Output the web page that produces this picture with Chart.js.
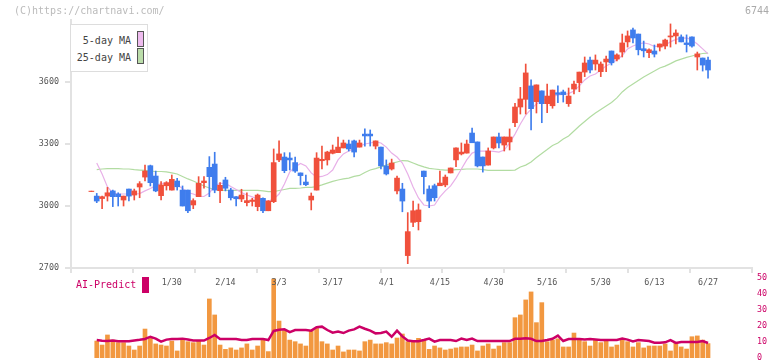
<!DOCTYPE html>
<html>
<head>
<meta charset="utf-8">
<script src="https://cdn.jsdelivr.net/npm/chart.js@4.4.1/dist/chart.umd.min.js"></script>
<style>
  html, body { margin: 0; padding: 0; background: #fff; overflow: hidden; }
  #wrap { position: relative; width: 772px; height: 361px; overflow: hidden;
          font-family: "DejaVu Sans Mono", monospace; }
  canvas { position: absolute; left: 0; top: 0; }
  .credit { position: absolute; left: 14px; top: 5px; font-size: 10px; color: #bbb; }
  .code { position: absolute; left: 745px; top: 5px; font-size: 10px; color: #aaa; }
  .legend { position: absolute; left: 70px; top: 24px; width: 76px; height: 46px;
            border: 1px solid #ddd; background: #fff; font-size: 10px; color: #444; }
  .legend .row { position: absolute; right: 16px; line-height: 12px; }
  .legend .sw { position: absolute; left: 66px; width: 5px; height: 14px; border: 1px solid #555; }
  .ai { position: absolute; left: 76px; top: 279px; font-size: 10px; color: #cc0066; line-height: 12px; }
  .aibox { position: absolute; left: 142px; top: 277px; width: 7px; height: 16px; background: #cc0066; }
</style>
</head>
<body>
<div id="wrap">
  <canvas id="sub" width="772" height="370"></canvas>
  <canvas id="main" width="772" height="361"></canvas>
  <div class="credit">(C)https://chartnavi.com/</div>
  <div class="code">6744</div>
  <div class="legend">
    <div class="row" style="top:10px">5-day MA</div>
    <div class="sw" style="top:6px;background:#eebbee"></div>
    <div class="row" style="top:27px">25-day MA</div>
    <div class="sw" style="top:23px;background:#bbddaa"></div>
  </div>
  <div class="ai">AI-Predict</div>
  <div class="aibox"></div>
</div>
<script>
// trading days, 2025
const dates = [
  '1/8','1/9','1/10','1/14','1/15','1/16','1/17','1/20','1/21','1/22',
  '1/23','1/24','1/27','1/28','1/29','1/30','1/31','2/3','2/4','2/5',
  '2/6','2/7','2/10','2/12','2/13','2/14','2/17','2/18','2/19','2/20',
  '2/21','2/25','2/26','2/27','2/28','3/3','3/4','3/5','3/6','3/7',
  '3/10','3/11','3/12','3/13','3/14','3/17','3/18','3/19','3/21','3/24',
  '3/25','3/26','3/27','3/28','3/31','4/1','4/2','4/3','4/4','4/7',
  '4/8','4/9','4/10','4/11','4/14','4/15','4/16','4/17','4/18','4/21',
  '4/22','4/23','4/24','4/25','4/28','4/30','5/1','5/2','5/7','5/8',
  '5/9','5/12','5/13','5/14','5/15','5/16','5/19','5/20','5/21','5/22',
  '5/23','5/26','5/27','5/28','5/29','5/30','6/2','6/3','6/4','6/5',
  '6/6','6/9','6/10','6/11','6/12','6/13','6/16','6/17','6/18','6/19',
  '6/20','6/23','6/24','6/25','6/26','6/27'
];
const tickDates = ['1/30','2/14','3/3','3/17','4/1','4/15','4/30','5/16','5/30','6/13','6/27'];
const priceTicks = [2700, 3000, 3300, 3600];

const opens = [
  3070,3048,3036,3048,3073,3058,3029,3082,3053,3092,
  3140,3195,3145,3050,3098,3077,3121,3077,3077,3005,
  3045,3113,3187,3203,3074,3126,3077,3045,3034,3016,
  3022,2997,3037,2977,3021,3223,3237,3232,3210,3160,
  3116,3029,3077,3219,3223,3255,3258,3281,3300,3315,
  3285,3348,3348,3290,3285,3194,3179,3073,3082,2760,
  2921,2924,3169,3082,3098,3098,3102,3160,3223,3252,
  3256,3353,3310,3237,3198,3281,3334,3295,3310,3403,
  3479,3516,3581,3505,3557,3495,3485,3548,3552,3495,
  3566,3597,3648,3706,3687,3650,3697,3750,3711,3745,
  3794,3852,3832,3761,3742,3750,3769,3774,3818,3823,
  3818,3789,3818,3721,3716,3706
];
const highs = [
  3072,3061,3048,3090,3077,3064,3048,3082,3082,3118,
  3198,3198,3169,3118,3118,3150,3134,3097,3077,3035,
  3142,3142,3239,3260,3113,3139,3086,3045,3081,3064,
  3037,3058,3040,3026,3276,3315,3258,3258,3237,3160,
  3150,3063,3258,3290,3265,3295,3334,3319,3319,3319,
  3319,3373,3368,3315,3285,3223,3227,3145,3110,2968,
  3024,3010,3169,3098,3106,3169,3150,3184,3281,3305,
  3319,3377,3310,3237,3281,3334,3353,3334,3373,3497,
  3574,3687,3610,3586,3557,3590,3561,3581,3561,3571,
  3605,3648,3721,3721,3731,3697,3726,3750,3736,3832,
  3847,3861,3832,3798,3760,3779,3784,3808,3881,3852,
  3828,3828,3818,3745,3716,3721
];
const lows = [
  3070,3016,2987,3024,2997,3000,3000,3024,3029,3040,
  3121,3097,3069,3029,3077,3077,3077,3000,2968,2987,
  3045,3086,3045,3064,3016,3073,3029,3000,3021,3000,
  3000,2977,2968,2977,3016,3214,3161,3174,3163,3102,
  3098,2981,3077,3179,3198,3252,3258,3281,3266,3237,
  3285,3290,3290,3276,3179,3150,3174,3058,2972,2721,
  2900,2884,3058,2992,3024,3098,3093,3160,3190,3247,
  3256,3306,3189,3164,3198,3276,3281,3266,3271,3384,
  3445,3445,3368,3450,3403,3452,3473,3500,3503,3482,
  3542,3553,3626,3644,3658,3626,3650,3682,3702,3721,
  3769,3789,3731,3721,3718,3721,3750,3760,3769,3784,
  3794,3745,3769,3658,3653,3619
];
const closes = [
  3072,3024,3045,3064,3045,3045,3048,3048,3073,3108,
  3169,3113,3073,3102,3113,3129,3093,3000,2977,3026,
  3110,3121,3142,3077,3100,3086,3040,3035,3053,3026,
  3029,3053,2977,3024,3210,3252,3171,3223,3169,3147,
  3103,3048,3232,3226,3261,3271,3285,3305,3276,3261,
  3305,3339,3339,3315,3194,3155,3208,3135,3024,2876,
  2977,2981,3142,3024,3040,3111,3140,3184,3281,3261,
  3300,3306,3194,3194,3266,3334,3305,3334,3334,3479,
  3518,3644,3471,3586,3495,3532,3561,3540,3539,3532,
  3590,3648,3692,3658,3706,3687,3711,3693,3731,3789,
  3823,3813,3756,3751,3756,3735,3784,3803,3823,3837,
  3794,3781,3774,3736,3682,3658
];
const ma5 = [
  null,3208,3155,3092,3063,3058,3058,3058,3058,3060,
  3073,3085,3099,3109,3111,3109,3102,3085,3065,3058,
  3048,3046,3063,3097,3109,3109,3094,3080,3065,3053,
  3044,3034,3027,3024,3034,3058,3106,3165,3189,3206,
  3194,3160,3140,3143,3152,3174,3223,3252,3266,3276,
  3290,3300,3305,3310,3305,3285,3256,3237,3208,3155,
  3092,3039,3005,3000,3005,3044,3073,3097,3135,3179,
  3223,3256,3266,3266,3266,3264,3261,3271,3305,3348,
  3397,3440,3469,3494,3508,3520,3530,3537,3540,3544,
  3556,3581,3610,3629,3639,3658,3677,3692,3707,3728,
  3760,3774,3784,3789,3784,3772,3772,3779,3794,3806,
  3811,3813,3803,3784,3760,3736
];
const ma25 = [
  null,3176,3179,3181,3181,3181,3179,3179,3176,3174,
  3172,3169,3167,3167,3165,3160,3155,3143,3131,3121,
  3109,3097,3087,3080,3077,3076,3076,3076,3076,3076,
  3076,3076,3073,3070,3070,3075,3080,3085,3085,3087,
  3090,3090,3094,3102,3111,3119,3126,3131,3135,3143,
  3148,3162,3174,3181,3189,3198,3206,3213,3220,3218,
  3208,3198,3189,3182,3179,3176,3174,3174,3176,3177,
  3179,3179,3179,3176,3172,3172,3172,3172,3172,3174,
  3189,3198,3213,3235,3254,3273,3293,3305,3324,3339,
  3363,3387,3409,3431,3450,3467,3484,3501,3523,3552,
  3573,3590,3607,3624,3639,3653,3668,3677,3689,3702,
  3711,3719,3726,3733,3738,3740
];
const volume = [
  null,10.6,8.1,14.4,11.2,9.6,9.6,7.5,5,7.5,
  18.1,12.9,8.8,8.1,7.5,10.6,4.4,11.2,10.2,9.6,
  10.6,8.1,36.9,26.9,8.1,5.4,6.3,5,6.3,8.8,
  5,7.5,11.2,4,49.4,23.1,17.1,11.2,10.2,8.8,
  7.5,17.1,18.5,10.2,8.8,5,7.5,3.8,5,5,
  4.4,10.2,11.2,8.8,8.8,9.6,8.8,12.5,15,10.2,
  10.2,12.3,11.2,5.4,7.5,6.3,5,5.6,6.3,6.9,
  6.9,8.1,4.4,7.5,8.8,5.6,7.5,9.6,9.6,25.2,
  26.9,36.3,41.3,22.1,34.6,10.2,11.2,12,6.9,6.9,
  15.6,11.2,10.2,7.5,11.2,9.6,11.2,6.9,8.1,12.3,
  10.2,6.9,9.6,6.3,7.5,7.5,7.5,8.8,4.4,9.4,
  6.9,5.6,13.3,13.8,11.2,9
];
const aiPredict = [
  null,11.2,10.8,10.6,10.9,10.5,10.5,10.5,11.0,11.4,
  11.9,13.3,12.1,10.2,11.5,11.9,11.9,12.1,11.5,10.9,
  11.0,10.9,12.5,14.4,11.9,11.9,11.9,11.9,11.2,11.2,
  11.9,11.9,11.9,11.2,16.9,17.7,17.9,16.2,17.5,17.5,
  17.5,17.1,19.2,19.6,17.5,15.8,16.5,15.6,17.1,17.9,
  19.6,18.3,17.1,15.4,15.6,16.5,13.3,17.1,13.5,10.9,
  10.5,10.5,11.2,12.1,10.2,11.2,11.2,11.2,10.6,12.1,
  11.2,12.1,10.6,10.6,10.6,10.6,10.6,10.6,10.6,12,
  12,12.3,12,10.6,10.6,11.2,12,14,10.6,11.8,
  11.8,11.8,11.5,11.8,11.5,11.2,11.2,11.2,11.2,12.1,
  11.5,10.4,11.2,11.0,10.6,9.6,9.6,9.8,11.2,9.4,
  10,10,10,10,10.6,9.4
];

const UP = '#f0503c';
const DOWN = '#3f7ded';
const X_MIN = -3.8;
const X_MAX = 123.2;
const tickFont = { family: '"DejaVu Sans Mono", monospace', size: 8.4 };

const idx = dates.map((d, i) => i);
const candleColor = ctx => closes[ctx.dataIndex] >= opens[ctx.dataIndex] ? UP : DOWN;
const points = arr => idx.filter(i => arr[i] !== null).map(i => ({ x: i, y: arr[i] }));

// price panel
new Chart(document.getElementById('main'), {
  data: {
    datasets: [{
      type: 'bar',
      label: 'body',
      data: idx.map(i => ({ x: i, y: [opens[i], closes[i]] })),
      backgroundColor: candleColor,
      barThickness: 5,
      grouped: false,
      order: 0
    }, {
      type: 'bar',
      label: 'wick',
      data: idx.map(i => ({ x: i, y: [lows[i], highs[i]] })),
      backgroundColor: candleColor,
      barThickness: 1,
      grouped: false,
      order: 1
    }, {
      type: 'line',
      label: '5-day MA',
      data: points(ma5),
      borderColor: '#e8b0e8',
      borderWidth: 1.2,
      pointRadius: 0,
      order: 2
    }, {
      type: 'line',
      label: '25-day MA',
      data: points(ma25),
      borderColor: '#b2dca2',
      borderWidth: 1.2,
      pointRadius: 0,
      order: 3
    }]
  },
  options: {
    responsive: false,
    animation: false,
    devicePixelRatio: 1,
    layout: { padding: { top: 20, right: 20, left: 0, bottom: 0 } },
    plugins: { legend: { display: false }, tooltip: { enabled: false } },
    scales: {
      x: {
        type: 'linear', min: X_MIN, max: X_MAX, position: 'bottom', offset: false,
        afterBuildTicks: s => {
          s.ticks = Array.from({ length: 12 }, (_, k) => ({ value: X_MIN + k * (X_MAX - X_MIN) / 11 }));
        },
        afterFit: s => { s.height = 5; },
        ticks: { display: false },
        grid: { drawOnChartArea: false, offset: false, tickLength: 5, color: '#e2e2e2', lineWidth: 2 },
        border: { color: '#e2e2e2', width: 2 }
      },
      x2: {
        type: 'linear', min: X_MIN, max: X_MAX, position: 'bottom', offset: false,
        afterBuildTicks: s => {
          s.ticks = tickDates.map(d => ({ value: dates.indexOf(d) }));
        },
        afterFit: s => { s.height = 88; },
        ticks: {
          callback: v => dates[v], font: tickFont, color: '#555',
          padding: 5, maxRotation: 0, autoSkip: false
        },
        grid: { display: false, drawTicks: false },
        border: { display: false }
      },
      y: {
        min: 2700, max: 3900, position: 'left',
        afterBuildTicks: s => { s.ticks = priceTicks.map(v => ({ value: v })); },
        afterFit: s => { s.width = 71; },
        ticks: { font: tickFont, color: '#555', padding: 6, callback: v => String(v) },
        grid: { drawOnChartArea: false, tickLength: 6, color: '#e2e2e2', lineWidth: 2 },
        border: { color: '#e2e2e2', width: 2 }
      }
    }
  }
});

// volume + AI-Predict panel
new Chart(document.getElementById('sub'), {
  data: {
    datasets: [{
      type: 'line',
      label: 'AI-Predict',
      data: points(aiPredict),
      borderColor: '#cc0066',
      borderWidth: 2.5,
      pointRadius: 0,
      yAxisID: 'y',
      order: 0
    }, {
      type: 'bar',
      label: 'volume',
      data: points(volume),
      backgroundColor: '#f29840',
      barThickness: 4,
      grouped: false,
      yAxisID: 'yv',
      order: 1
    }]
  },
  options: {
    responsive: false,
    animation: false,
    devicePixelRatio: 1,
    layout: { padding: { top: 278, right: 0, left: 71, bottom: 12 } },
    plugins: { legend: { display: false }, tooltip: { enabled: false } },
    scales: {
      x: { type: 'linear', min: X_MIN, max: X_MAX, offset: false, display: false },
      y: {
        position: 'right', min: 0, max: 50,
        afterFit: s => { s.width = 20; },
        ticks: { stepSize: 10, font: tickFont, color: '#cc0066', padding: 5 },
        grid: { display: false, drawTicks: false },
        border: { display: false }
      },
      yv: { display: false, min: 0, max: 50 }
    }
  }
});
</script>
</body>
</html>
